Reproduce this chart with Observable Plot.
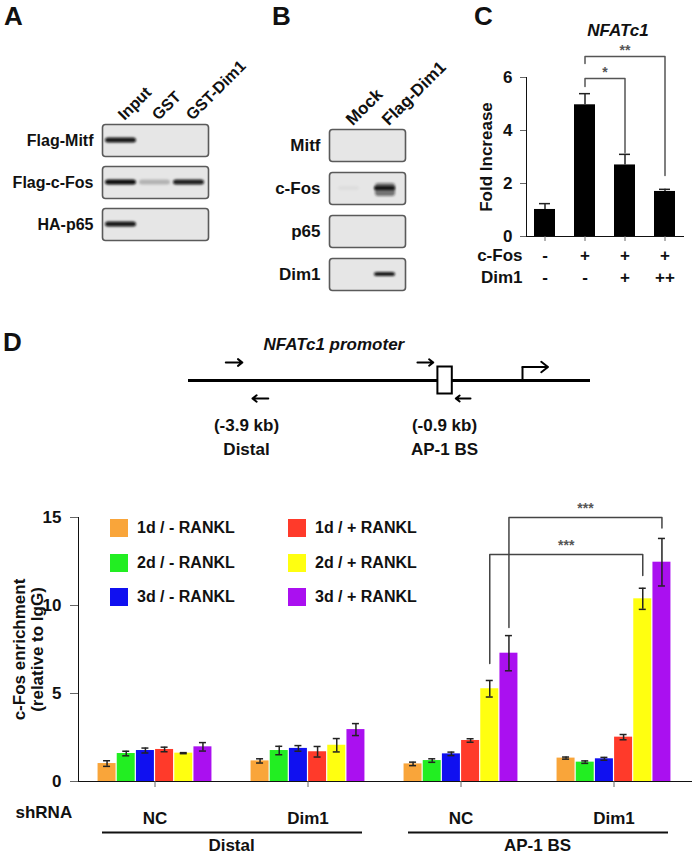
<!DOCTYPE html>
<html><head><meta charset="utf-8">
<script src="https://cdn.jsdelivr.net/npm/d3@7"></script>
<script src="https://cdn.jsdelivr.net/npm/@observablehq/plot@0.6"></script>
<style>
html,body{margin:0;padding:0;background:#fff;}
#fig{position:relative;width:693px;height:859px;overflow:hidden;font-family:"Liberation Sans",Arial,sans-serif;font-weight:bold;color:#111;}
.abs{position:absolute;}
.letter{position:absolute;font-size:26px;line-height:30px;font-weight:bold;}
#legend{position:absolute;left:110px;top:511px;display:grid;grid-auto-flow:column;grid-template-rows:repeat(3,34.5px);grid-template-columns:178px 180px;font-size:16px;}
.lgi{display:flex;align-items:center;white-space:pre;}
.sw{width:18px;height:18px;margin-right:9px;flex:none;}
</style></head>
<body><div id="fig">
<div id="pA" class="abs" style="left:0;top:0"></div>
<div id="pB" class="abs" style="left:220px;top:0"></div>
<div id="pC" class="abs" style="left:430px;top:0"></div>
<div id="pP" class="abs" style="left:0;top:330px"></div>
<div id="pD" class="abs" style="left:0;top:480px"></div>
<div id="legend"></div>
<div class="letter" style="left:4px;top:1px">A</div>
<div class="letter" style="left:272px;top:1px">B</div>
<div class="letter" style="left:474px;top:1px">C</div>
<div class="letter" style="left:3px;top:327px">D</div>
</div>
<script>
// ---------- Panel A: GST pull-down blot ----------
const lanesA = ["Input", "GST", "GST-Dim1"];
const rowsA = ["Flag-Mitf", "Flag-c-Fos", "HA-p65"];
const levelsA = [
  [0.95, 0, 0],
  [1.0, 0.22, 0.92],
  [0.95, 0, 0]
];
// ---------- Panel B: co-IP blot ----------
const lanesB = ["Mock", "Flag-Dim1"];
const rowsB = ["Mitf", "c-Fos", "p65", "Dim1"];
const levelsB = [
  [0, 0],
  [0.04, 1.0],
  [0, 0],
  [0, 0.95]
];
const smearB = [
  [0, 0],
  [0, 0.55],
  [0, 0],
  [0, 0]
];
// ---------- Panel C: NFATc1 luciferase ----------
const condC = ["1", "2", "3", "4"];
const cFosC = ["-", "+", "+", "+"];
const dim1C = ["-", "-", "+", "++"];
const foldC = [1.02, 4.97, 2.7, 1.7];
const errC = [0.22, 0.42, 0.4, 0.08];
const sigC = [
  {from: "2", to: "4", top: 6.79, yFrom: 6.53, yTo: 2.3, label: "**"},
  {from: "2", to: "3", top: 5.96, yFrom: 5.66, yTo: 3.17, label: "*"}
];
// ---------- Panel D: promoter schematic ----------
const promoterSpan = [-4.6, 0.8]; // kb (schematic, not to scale)
const sites = [
  {name: "Distal", kb: -3.9},
  {name: "AP-1 BS", kb: -0.9}
];
const apBox = [{name: "AP-1 BS", x1: -1.0, x2: -0.81}];
const primers = [
  {site: "Distal", from: -4.15, to: -3.95, strand: 1},
  {site: "Distal", from: -3.57, to: -3.81, strand: -1},
  {site: "AP-1 BS", from: -1.31, to: -1.07, strand: 1},
  {site: "AP-1 BS", from: -0.6, to: -0.77, strand: -1}
];
const tssKb = [0];
// ---------- Panel D: ChIP bars ----------
const groups = ["Distal NC", "Distal Dim1", "AP-1 NC", "AP-1 Dim1"];
const groupLabels = ["NC", "Dim1", "NC", "Dim1"];
const series = ["1d / - RANKL", "2d / - RANKL", "3d / - RANKL", "1d / + RANKL", "2d / + RANKL", "3d / + RANKL"];
const colors = ["#F9A53A", "#22EE22", "#1010F0", "#FF3A2A", "#FFFF10", "#AA10F0"];
const enrich = [
  [1.02, 1.59, 1.76, 1.82, 1.61, 1.97],
  [1.17, 1.76, 1.88, 1.69, 2.06, 2.95],
  [1.0, 1.19, 1.57, 2.33, 5.27, 7.29],
  [1.33, 1.1, 1.29, 2.52, 10.38, 12.46]
];
const enrichErr = [
  [0.16, 0.13, 0.14, 0.13, 0.03, 0.24],
  [0.12, 0.24, 0.16, 0.3, 0.38, 0.34],
  [0.1, 0.1, 0.1, 0.1, 0.47, 1.0],
  [0.06, 0.07, 0.08, 0.15, 0.6, 1.35]
];
const sigD = [
  {series: "2d / + RANKL", from: "AP-1 NC", to: "AP-1 Dim1", top: 12.9, yFrom: 6.7, yTo: 11.7, label: "***"},
  {series: "3d / + RANKL", from: "AP-1 NC", to: "AP-1 Dim1", top: 15.0, yFrom: 8.75, yTo: 14.4, label: "***"}
];
const regions = [
  {name: "Distal", first: "Distal NC", last: "Distal Dim1"},
  {name: "AP-1 BS", first: "AP-1 NC", last: "AP-1 Dim1"}
];

const baseStyle = {fontFamily: '"Liberation Sans", Arial, sans-serif', fontSize: "17px", fontWeight: "bold", background: "transparent", color: "#111", overflow: "visible"};

function addBlur(svg, id, sd) {
  const ns = "http://www.w3.org/2000/svg";
  const defs = document.createElementNS(ns, "defs");
  defs.innerHTML = `<filter id="${id}" x="-30%" y="-80%" width="160%" height="260%"><feGaussianBlur stdDeviation="${sd}"/></filter>`;
  svg.insertBefore(defs, svg.firstChild);
  svg.querySelectorAll('g[aria-label="cell"]').forEach(g => g.setAttribute("filter", `url(#${id})`));
}
function grayAxes(svg, col) {
  svg.querySelectorAll("g[aria-label]").forEach(g => {
    const a = g.getAttribute("aria-label");
    if (/axis (tick|line)$/.test(a)) g.setAttribute("stroke", col);
  });
  svg.querySelectorAll('[aria-label$="-axis"] line, [aria-label$="-axis"] path.domain').forEach(e => e.setAttribute("stroke", col));
}

function blot(id, lanes, rows, levels, smear, g, fs) {
  const table = rows.flatMap((r, i) => lanes.map((l, j) => ({row: r, lane: l, level: levels[i][j], smear: smear ? smear[i][j] : 0})));
  const svg = Plot.plot({
    width: g.w, height: g.h, marginLeft: g.ml, marginRight: g.mr, marginTop: g.mt, marginBottom: g.mb,
    style: {...baseStyle, fontSize: fs},
    facet: {data: table, y: "row"},
    fy: {domain: rows, paddingInner: g.pad, paddingOuter: 0, axis: "left", tickSize: 0, tickPadding: 9, label: null},
    x: {domain: lanes, axis: "top", tickRotate: -45, tickSize: 0, tickPadding: 7, label: null, padding: 0.08},
    opacity: {domain: [0, 1], range: [0, 1]},
    marks: [
      Plot.frame({fill: "#e6e6e6", stroke: "#5a5a5a", strokeWidth: 1.6, rx: 3}),
      Plot.cell(table, {x: "lane", fill: "#0d0d0d", fillOpacity: "level", insetTop: g.band, insetBottom: g.band, insetLeft: g.side, insetRight: g.side, rx: 3}),
      Plot.cell(table, {filter: d => d.smear > 0, x: "lane", fill: "#1a1a1a", fillOpacity: "smear", insetTop: g.band - 3, insetBottom: g.band - 6, insetLeft: 7, insetRight: 6, rx: 3})
    ]
  });
  addBlur(svg, id + "blur", 1.1);
  document.getElementById(id).append(svg);
}

blot("pA", lanesA, rowsA, levelsA, null, {w: 215, h: 250, ml: 102, mr: 7, mt: 123, mb: 8, pad: 0.23, band: 13.5, side: 0}, "16px");
blot("pB", lanesB, rowsB, levelsB, smearB, {w: 195, h: 300, ml: 109, mr: 10, mt: 127, mb: 8.5, pad: 0.26, band: 14, side: 6}, "17px");

// ---------- Panel C ----------
{
  const t = condC.map((c, i) => ({cond: c, cfos: cFosC[i], dim1: dim1C[i], fold: foldC[i], err: errC[i]}));
  const pts = sigC.flatMap((b, k) => [
    {k, x: b.from, y: b.yFrom}, {k, x: b.from, y: b.top}, {k, x: b.to, y: b.top}, {k, x: b.to, y: b.yTo}
  ]);
  const step = 40;
  const svg = Plot.plot({
    width: 263, height: 300, marginLeft: 96, marginRight: 10, marginTop: 77, marginBottom: 64,
    style: baseStyle,
    x: {domain: condC, paddingInner: 0.475, paddingOuter: 0.2, tickSize: 5, tickFormat: () => "", line: true, label: null},
    y: {domain: [0, 6], ticks: [0, 2, 4, 6], tickFormat: d => String(d), tickSize: 6, tickPadding: 8, line: true, label: null},
    marks: [
      Plot.barY(t, {x: "cond", y: "fold", fill: "#000"}),
      Plot.ruleX(t, {x: "cond", y1: "fold", y2: d => d.fold + d.err, stroke: "#222", strokeWidth: 1.5}),
      Plot.tickY(t, {x: "cond", y: d => d.fold + d.err, inset: 5, stroke: "#222", strokeWidth: 1.5}),
      Plot.line(pts, {x: "x", y: "y", z: "k", stroke: "#555", strokeWidth: 1.5}),
      Plot.text([sigC[0]], {x: "from", y: "top", text: "label", dx: step * (condC.indexOf(sigC[0].to) - condC.indexOf(sigC[0].from)) / 2, dy: -6, fontSize: 14, fill: "#555"}),
      Plot.text([sigC[1]], {x: "from", y: "top", text: "label", dx: step * (condC.indexOf(sigC[1].to) - condC.indexOf(sigC[1].from)) / 2, dy: -6, fontSize: 14, fill: "#555"}),
      Plot.text(t, {x: "cond", text: "cfos", frameAnchor: "bottom", dy: 24}),
      Plot.text(t, {x: "cond", text: "dim1", frameAnchor: "bottom", dy: 46}),
      Plot.text(["c-Fos"], {frameAnchor: "bottom-left", textAnchor: "end", dx: -4, dy: 24}),
      Plot.text(["Dim1"], {frameAnchor: "bottom-left", textAnchor: "end", dx: -4, dy: 46}),
      Plot.text(["Fold Increase"], {frameAnchor: "left", textAnchor: "middle", rotate: -90, dx: -40}),
      Plot.text(["NFATc1"], {frameAnchor: "top", textAnchor: "middle", dx: 13, dy: -54, fontStyle: "italic"})
    ]
  });
  grayAxes(svg, "#666");
  document.getElementById("pC").append(svg);
}

// ---------- Panel D: promoter schematic ----------
{
  const svg = Plot.plot({
    width: 693, height: 130, marginTop: 32, marginBottom: 62, marginLeft: 0, marginRight: 0,
    style: baseStyle,
    x: {type: "linear", domain: [-4.6, -3.9, -0.9, 0, 0.8], range: [188, 246, 444, 522, 590], axis: null},
    y: {domain: [-1, 1], axis: null},
    marks: [
      Plot.ruleY([0], {x1: promoterSpan[0], x2: promoterSpan[1], strokeWidth: 3, stroke: "#000"}),
      Plot.rect(apBox, {x1: "x1", x2: "x2", y1: -0.75, y2: 0.75, fill: "#fff", stroke: "#000", strokeWidth: 2}),
      Plot.ruleX(tssKb, {y1: 0, y2: 0.75, strokeWidth: 2, stroke: "#000"}),
      Plot.arrow(tssKb, {x1: d => d, x2: d => d + 0.3, y1: 0.75, y2: 0.75, strokeWidth: 2, headLength: 7, headAngle: 75, stroke: "#000"}),
      Plot.arrow(primers, {x1: "from", x2: "to", y1: "strand", y2: "strand", strokeWidth: 2, headLength: 7, headAngle: 75, stroke: "#000"}),
      Plot.text(sites, {x: "kb", text: d => `(${d.kb} kb)\n${d.name}`, frameAnchor: "bottom", lineAnchor: "top", dy: 16, lineHeight: 1.4}),
      Plot.text(["NFATc1 promoter"], {frameAnchor: "top-left", textAnchor: "start", dx: 263, dy: -25, fontStyle: "italic"})
    ]
  });
  document.getElementById("pP").append(svg);
}

// ---------- Panel D: ChIP bars ----------
{
  const t = groups.flatMap((g, i) => series.map((s, j) => ({group: g, series: s, value: enrich[i][j], err: enrichErr[i][j]})));
  const W = 693, ml = 78, mr = 2, pi = 0.8747, po = 0.44;
  const step = (W - ml - mr) / (groups.length - pi + 2 * po);
  const bw = step * (1 - pi);
  const off = j => (j - (series.length - 1) / 2) * bw;
  const marks = [];
  series.forEach((s, j) => {
    const rows = t.filter(d => d.series === s);
    marks.push(
      Plot.barY(rows, {x: "group", y: "value", fill: "series", dx: off(j), insetLeft: 0.5, insetRight: 0.5}),
      Plot.ruleX(rows, {x: "group", y1: d => d.value - d.err, y2: d => d.value + d.err, dx: off(j), stroke: "#222", strokeWidth: 1.5}),
      Plot.tickY(rows, {x: "group", y: d => d.value - d.err, dx: off(j), insetLeft: 6, insetRight: 6, stroke: "#222", strokeWidth: 1.5}),
      Plot.tickY(rows, {x: "group", y: d => d.value + d.err, dx: off(j), insetLeft: 6, insetRight: 6, stroke: "#222", strokeWidth: 1.5})
    );
  });
  sigD.forEach((b, k) => {
    const j = series.indexOf(b.series);
    const pts = [{x: b.from, y: b.yFrom}, {x: b.from, y: b.top}, {x: b.to, y: b.top}, {x: b.to, y: b.yTo}];
    const span = groups.indexOf(b.to) - groups.indexOf(b.from);
    marks.push(
      Plot.line(pts, {x: "x", y: "y", dx: off(j), stroke: "#444", strokeWidth: 1.5}),
      Plot.text([b], {x: "from", y: "top", text: "label", dx: off(j) + step * span / 2, dy: -9, fontSize: 14, fill: "#555"})
    );
  });
  marks.push(
    Plot.ruleY(regions, {x1: "first", x2: "last", y: null, dy: 183, insetLeft: -43, insetRight: -45, strokeWidth: 2, stroke: "#111"}),
    Plot.text(regions, {x: "first", text: "name", frameAnchor: "bottom", dx: step / 2, dy: 69}),
    Plot.text(["shRNA"], {frameAnchor: "bottom-left", textAnchor: "start", dx: -63, dy: 36}),
    Plot.text(["c-Fos enrichment\n(relative to IgG)"], {frameAnchor: "left", textAnchor: "middle", rotate: -90, dx: -50, lineHeight: 1.05})
  );
  const svg = Plot.plot({
    width: W, height: 379, marginLeft: ml, marginRight: mr, marginTop: 37, marginBottom: 78,
    style: baseStyle,
    color: {domain: series, range: colors},
    x: {domain: groups, paddingInner: pi, paddingOuter: po, tickSize: 6, tickPadding: 24, tickFormat: d => groupLabels[groups.indexOf(d)], line: true, label: null},
    y: {domain: [0, 15], ticks: [0, 5, 10, 15], tickSize: 8, tickPadding: 9, line: true, label: null},
    marks
  });
  grayAxes(svg, "#666");
  document.getElementById("pD").append(svg);
  const lg = document.getElementById("legend");
  series.forEach((s, i) => {
    const it = document.createElement("div");
    it.className = "lgi";
    const sw = document.createElement("span");
    sw.className = "sw";
    sw.style.background = colors[i];
    const tx = document.createElement("span");
    tx.textContent = s;
    it.append(sw, tx);
    lg.append(it);
  });
}
</script>
</body></html>
